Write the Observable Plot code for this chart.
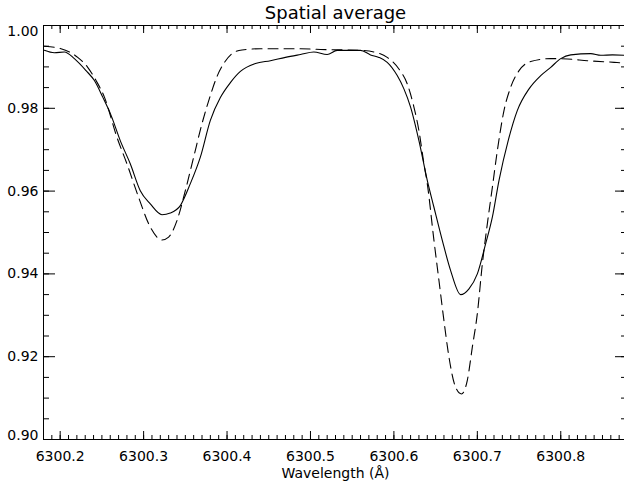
<!DOCTYPE html>
<html><head><meta charset="utf-8">
<script src="https://cdn.jsdelivr.net/npm/d3@7"></script>
<script src="https://cdn.jsdelivr.net/npm/@observablehq/plot@0.6"></script>
<style>html,body{margin:0;padding:0;background:#fff;overflow:hidden;color:#000}</style>
</head><body><div id="chart"></div>
<script>
const titleText = "Spatial average";
const xLabel = "Wavelength (Å)";
const xTickValues = [6300.2, 6300.3, 6300.4, 6300.5, 6300.6, 6300.7, 6300.8];
const yTickValues = [0.90, 0.92, 0.94, 0.96, 0.98, 1.00];

// Solid curve (observed)
const obsWavelength = [6300.181, 6300.193, 6300.205, 6300.217, 6300.231, 6300.241, 6300.251, 6300.261, 6300.272, 6300.284, 6300.296, 6300.308, 6300.322, 6300.332, 6300.344, 6300.356, 6300.368, 6300.380, 6300.392, 6300.404, 6300.416, 6300.434, 6300.452, 6300.470, 6300.488, 6300.504, 6300.520, 6300.532, 6300.560, 6300.572, 6300.582, 6300.592, 6300.604, 6300.612, 6300.620, 6300.630, 6300.640, 6300.648, 6300.658, 6300.668, 6300.680, 6300.690, 6300.700, 6300.710, 6300.718, 6300.726, 6300.737, 6300.748, 6300.762, 6300.776, 6300.788, 6300.800, 6300.812, 6300.836, 6300.848, 6300.862, 6300.879];
const obsIntensity = [0.9940, 0.9934, 0.9936, 0.9920, 0.9891, 0.9867, 0.9827, 0.9783, 0.9722, 0.9666, 0.9601, 0.9569, 0.9543, 0.9547, 0.9565, 0.9618, 0.9682, 0.9771, 0.9826, 0.9862, 0.9889, 0.9908, 0.9915, 0.9923, 0.9930, 0.9936, 0.9930, 0.9940, 0.9940, 0.9929, 0.9923, 0.9911, 0.9879, 0.9847, 0.9803, 0.9722, 0.9626, 0.9561, 0.9481, 0.9408, 0.9350, 0.9364, 0.9400, 0.9473, 0.9537, 0.9626, 0.9722, 0.9795, 0.9847, 0.9879, 0.9899, 0.9920, 0.9929, 0.9932, 0.9928, 0.9929, 0.9928];

// Dashed curve (synthetic)
const synWavelength = [6300.181, 6300.201, 6300.221, 6300.233, 6300.243, 6300.253, 6300.268, 6300.280, 6300.294, 6300.308, 6300.322, 6300.330, 6300.340, 6300.350, 6300.360, 6300.370, 6300.380, 6300.388, 6300.397, 6300.406, 6300.418, 6300.440, 6300.488, 6300.512, 6300.560, 6300.580, 6300.592, 6300.606, 6300.616, 6300.624, 6300.630, 6300.636, 6300.640, 6300.648, 6300.654, 6300.660, 6300.666, 6300.674, 6300.681, 6300.688, 6300.694, 6300.700, 6300.706, 6300.712, 6300.718, 6300.724, 6300.732, 6300.740, 6300.750, 6300.764, 6300.788, 6300.808, 6300.832, 6300.864, 6300.879];
const synIntensity = [0.9950, 0.9944, 0.9923, 0.9899, 0.9867, 0.9827, 0.9730, 0.9666, 0.9585, 0.9513, 0.9482, 0.9489, 0.9529, 0.9601, 0.9682, 0.9763, 0.9831, 0.9877, 0.9911, 0.9932, 0.9941, 0.9944, 0.9944, 0.9942, 0.9940, 0.9934, 0.9923, 0.9895, 0.9859, 0.9803, 0.9746, 0.9666, 0.9618, 0.9481, 0.9384, 0.9287, 0.9199, 0.9126, 0.9110, 0.9143, 0.9223, 0.9304, 0.9424, 0.9521, 0.9609, 0.9698, 0.9795, 0.9851, 0.9891, 0.9913, 0.9920, 0.9919, 0.9915, 0.9911, 0.9909];

const obs = obsWavelength.map((w, i) => ({w, v: obsIntensity[i]}));
const syn = synWavelength.map((w, i) => ({w, v: synIntensity[i]}));

const xMinor = d3.range(630018, 630089).map(i => i / 100);
const yMinor = d3.range(180, 201).map(i => +(i * 0.005).toFixed(3));

const W = 624, H = 488, mL = 43, mR = -3, mT = 25, mB = 49;
const pw = W - mL - mR, ph = H - mT - mB;
const font = "DejaVu Sans";

const chart = Plot.plot({
  width: W, height: H,
  marginLeft: mL, marginRight: mR, marginTop: mT, marginBottom: mB,
  style: {fontFamily: font, fontSize: "14px", background: "white", color: "black", overflow: "visible"},
  x: {domain: [6300.18, 6300.88], axis: null},
  y: {domain: [0.90, 1.00], axis: null},
  marks: [
    Plot.frame({stroke: "black", strokeWidth: 1}),
    // x minor ticks (bottom, top)
    Plot.tickX(xMinor, {x: d => d, insetTop: ph - 4, stroke: "black"}),
    Plot.tickX(xMinor, {x: d => d, insetBottom: ph - 4, stroke: "black"}),
    // x major ticks
    Plot.tickX(xTickValues, {x: d => d, insetTop: ph - 8, stroke: "black"}),
    Plot.tickX(xTickValues, {x: d => d, insetBottom: ph - 8, stroke: "black"}),
    // y minor ticks (left, right)
    Plot.tickY(yMinor, {y: d => d, insetRight: pw - 6, stroke: "black"}),
    Plot.tickY(yMinor, {y: d => d, insetLeft: pw - 6, stroke: "black"}),
    // y major ticks
    Plot.tickY(yTickValues, {y: d => d, insetRight: pw - 12, stroke: "black"}),
    Plot.tickY(yTickValues, {y: d => d, insetLeft: pw - 12, stroke: "black"}),
    // curves
    Plot.line(syn, {x: "w", y: "v", curve: "monotone-x", stroke: "black", strokeWidth: 1.1, strokeDasharray: "10,6"}),
    Plot.line(obs, {x: "w", y: "v", curve: "monotone-x", stroke: "black", strokeWidth: 1.1}),
    // x tick labels
    Plot.text(xTickValues, {x: d => d, frameAnchor: "bottom", lineAnchor: "bottom", dy: 21, text: d => d.toFixed(1), fontSize: 14, fill: "black"}),
    // y tick labels
    Plot.text(yTickValues.filter(d => d > 0.905 && d < 0.995), {y: d => d, frameAnchor: "left", textAnchor: "end", lineAnchor: "middle", dx: -5, text: d => d.toFixed(2), fontSize: 14, fill: "black"}),
    Plot.text(yTickValues.filter(d => d >= 0.995), {y: d => d, frameAnchor: "left", textAnchor: "end", lineAnchor: "middle", dx: -5, dy: 6, text: d => d.toFixed(2), fontSize: 14, fill: "black"}),
    Plot.text(yTickValues.filter(d => d <= 0.905), {y: d => d, frameAnchor: "left", textAnchor: "end", lineAnchor: "middle", dx: -5, dy: -4, text: d => d.toFixed(2), fontSize: 14, fill: "black"}),
    // axis title
    Plot.text([xLabel], {frameAnchor: "bottom", lineAnchor: "bottom", dy: 38, text: d => d, fontSize: 14, fill: "black"}),
    // chart title
    Plot.text([titleText], {frameAnchor: "top", lineAnchor: "bottom", dy: -7, text: d => d, fontSize: 18, fill: "black"})
  ]
});
document.getElementById("chart").appendChild(chart);
</script>
</body></html>
